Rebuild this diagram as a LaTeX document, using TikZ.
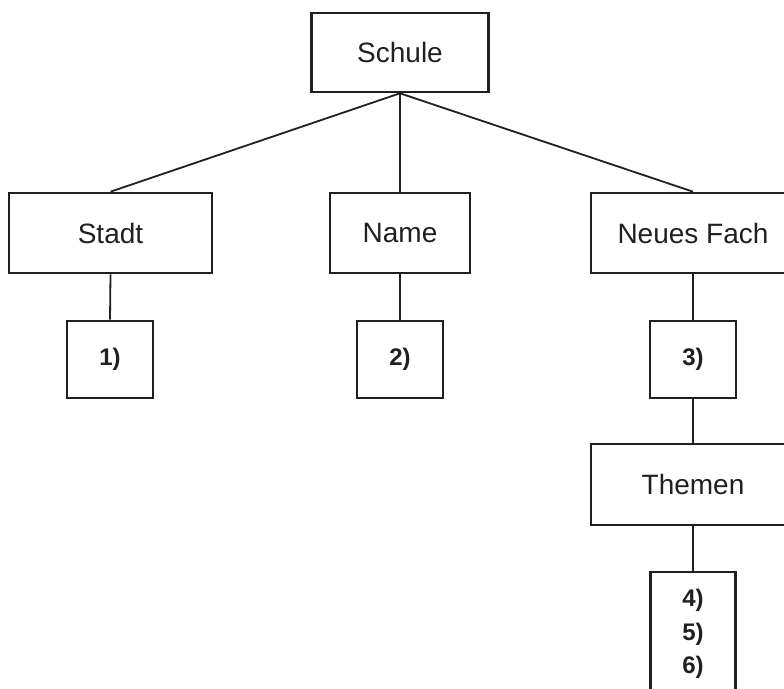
\documentclass[tikz,border=0pt]{standalone}
\usepackage{fontspec}
\setmainfont{Liberation Sans}
\definecolor{ink}{HTML}{231F20}

\begin{document}
\begin{tikzpicture}[x=1pt,y=-1pt,
    box/.style={draw=ink,line width=2.6pt,text=ink,inner sep=0pt,
      minimum height=80pt,font=\fontsize{28}{34}\selectfont},
    numbox/.style={box,minimum width=86pt,minimum height=77pt,
      font=\fontsize{24}{33.5}\selectfont\bfseries},
    link/.style={draw=ink,line width=1.8pt}]
  \useasboundingbox (0,0) rectangle (784,688);
  \clip (0,0) rectangle (784,688);

  % Top level
  \node[box,minimum width=177pt,minimum height=79pt] (schule) at (400,52.5) {Schule};

  % Second level
  \node[box,minimum width=203pt] (stadt) at (110.5,233) {Stadt};
  \node[box,minimum width=140pt] (name) at (400,233) {Name};
  \node[box,minimum width=204pt] (fach) at (693,233) {Neues Fach};

  % Answer boxes
  \node[numbox] (eins) at (110,359.5) {1)};
  \node[numbox] (zwei) at (400,359.5) {2)};
  \node[numbox] (drei) at (693,359.5) {3)};

  % Topics
  \node[box,minimum width=204pt,minimum height=81pt] (themen) at (693,484.5) {Themen};
  \node[numbox,minimum width=85pt,minimum height=124pt,align=center] (liste) at (693,634) {4)\\5)\\6)};

  % Connectors
  \draw[link] (schule.south) -- (stadt.north);
  \draw[link] (schule.south) -- (name.north);
  \draw[link] (schule.south) -- (fach.north);
  \draw[link] (stadt.south) -- (eins.north);
  \draw[link] (name.south) -- (zwei.north);
  \draw[link] (fach.south) -- (drei.north);
  \draw[link] (drei.south) -- (themen.north);
  \draw[link] (themen.south) -- (liste.north);
\end{tikzpicture}
\end{document}
